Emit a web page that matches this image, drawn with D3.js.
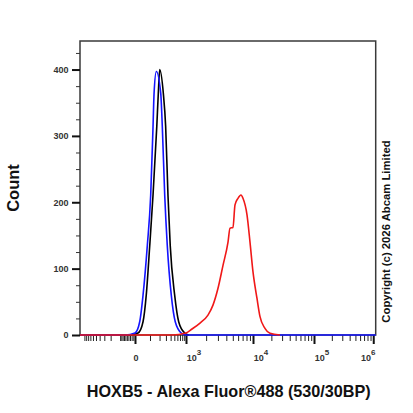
<!DOCTYPE html>
<html>
<head>
<meta charset="utf-8">
<script src="https://cdn.jsdelivr.net/npm/d3@7"></script>
<style>
  body { margin: 0; background: #fff; }
  text { font-family: "Liberation Sans", Arial, sans-serif; font-weight: bold; }
</style>
</head>
<body>
<svg id="Vis" width="413" height="413"></svg>
<script>
/*
* DATA
*/

// histogram series: x in fluorescence units, y in counts
const blackX = [-1300, -30, 18, 49, 71, 98, 127, 166, 184, 202, 255, 295, 340, 390, 510, 648, 923, 1100];
const blackCount = [0, 0, 3, 20, 60, 135, 211, 314, 364, 400, 364, 314, 211, 135, 60, 20, 3, 0];

const blueX = [-1300, -60, 0, 28, 49, 79, 106, 127, 137, 161, 216, 239, 278, 326, 416, 528, 756, 1000, 1100000];
const blueCount = [0, 0, 3, 20, 60, 135, 211, 314, 364, 397, 364, 314, 211, 135, 60, 20, 3, 0, 0];

const redX = [-1300, 430, 1000, 1230, 1620, 2130, 2530, 3000, 3570, 4240, 4540, 5030, 5390, 5970, 6620, 7090, 8140, 9020, 10000, 11630, 13000, 15700, 19000, 27700];
const redCount = [0, 0, 3, 9, 18, 30, 45, 70, 105, 140, 161, 162, 196, 206, 211, 206, 181, 140, 95, 55, 28, 10, 2.5, 0];

// axis ticks
const yMajor = [0, 100, 200, 300, 400];
const yMinor = [25, 50, 75, 125, 150, 175, 225, 250, 275, 325, 350, 375, 425];
const xMajor = [0, 1e3, 1e4, 1e5, 1e6];
const xMajorLabels = ["0", "3", "4", "5", "6"];
const xMinor = [
  -1000, -900, -800, -700, -600, -500, -400, -300, -200, -100,
  -90, -80, -70, -60, -50, -40, -30, -20, -10,
  100, 200, 300, 400, 500, 600, 700, 800, 900,
  2000, 3000, 4000, 5000, 6000, 7000, 8000, 9000,
  20000, 30000, 40000, 50000, 60000, 70000, 80000, 90000,
  200000, 300000, 400000, 500000, 600000, 700000, 800000, 900000
];

const xTitle = "HOXB5 - Alexa Fluor\u00AE488 (530/30BP)";
const yTitle = "Count";
const copyright = "Copyright (c) 2026 Abcam Limited";

/*
* SETUP
*/

const svg = d3.select("svg#Vis");

const frame = { left: 80, right: 375.7, top: 41, bottom: 335 };

/* biexponential-like display: arcsinh transform, piecewise linear on it */
const tf = v => Math.asinh(v / 100);
const xT = d3.scaleLinear()
  .domain([-1300, 0, 1e3, 1e4, 1e5, 1.1e6].map(tf))
  .range([frame.left, 135, 186, 253, 314, frame.right]);
const x = v => xT(tf(v));

const y = d3.scaleLinear()
  .domain([0, 443])
  .range([frame.bottom, frame.top]);

/*
* FRAME
*/

svg.append("rect")
  .attr("x", frame.left)
  .attr("y", frame.top)
  .attr("width", frame.right - frame.left)
  .attr("height", frame.bottom - frame.top)
  .attr("fill", "none")
  .attr("stroke", "#3a3a3a")
  .attr("stroke-width", 1.5);

/*
* AXES
*/

const yAxisMajor = svg.append("g")
  .attr("transform", translate(frame.left, 0))
  .call(d3.axisLeft(y).tickValues(yMajor).tickSize(8).tickPadding(3.5));
yAxisMajor.select(".domain").remove();
yAxisMajor.selectAll("line").attr("stroke", "#111").attr("stroke-width", 2);
yAxisMajor.selectAll("text")
  .style("font-size", "9px")
  .attr("fill", "#333");

const yAxisMinor = svg.append("g")
  .attr("transform", translate(frame.left, 0))
  .call(d3.axisLeft(y).tickValues(yMinor).tickSize(4).tickFormat(""));
yAxisMinor.select(".domain").remove();
yAxisMinor.selectAll("line").attr("stroke", "#333").attr("stroke-width", 1);

const xAxisMajor = svg.append("g")
  .attr("transform", translate(0, frame.bottom))
  .call(d3.axisBottom(xT).tickValues(xMajor.map(tf)).tickSize(9).tickFormat(""));
xAxisMajor.select(".domain").remove();
xAxisMajor.selectAll("line").attr("stroke", "#111").attr("stroke-width", 2);

const xAxisMinor = svg.append("g")
  .attr("transform", translate(0, frame.bottom))
  .call(d3.axisBottom(xT).tickValues(xMinor.map(tf)).tickSize(6).tickFormat(""));
xAxisMinor.select(".domain").remove();
xAxisMinor.selectAll("line").attr("stroke", "#222").attr("stroke-width", 1);

/* x tick labels: 0 and powers of ten */
const xLabels = svg.append("g").attr("fill", "#333");
xMajor.forEach(function(v, i) {
  const t = xLabels.append("text")
    .attr("x", x(v) + (i === 0 ? 1 : (i === xMajor.length - 1 ? -5 : 8)))
    .attr("y", 361)
    .attr("text-anchor", "middle")
    .style("font-size", "9px");
  if (i === 0) {
    t.text(xMajorLabels[i]);
  } else {
    t.append("tspan").text("10");
    t.append("tspan")
      .attr("dy", -6)
      .style("font-size", "8px")
      .text(xMajorLabels[i]);
  }
});

/*
* HISTOGRAMS
*/

const line = d3.line()
  .x(d => x(d[0]))
  .y(d => y(d[1]))
  .curve(d3.curveMonotoneX);

const series = [
  { xs: blackX, ys: blackCount, color: "#000000" },
  { xs: blueX, ys: blueCount, color: "#1414ff" },
  { xs: redX, ys: redCount, color: "#f01818" }
];

svg.append("g").selectAll("path")
  .data(series)
  .join("path")
    .attr("d", s => line(d3.zip(s.xs, s.ys)))
    .attr("fill", "none")
    .attr("stroke", s => s.color)
    .attr("stroke-width", 1.6)
    .attr("stroke-linejoin", "round");

/*
* TITLES
*/

svg.append("text")
  .attr("x", 228.8)
  .attr("y", 396.7)
  .attr("text-anchor", "middle")
  .style("font-size", "16.2px")
  .attr("fill", "#111")
  .text(xTitle);

svg.append("text")
  .attr("transform", translate(18.8, 188) + " rotate(-90)")
  .attr("text-anchor", "middle")
  .style("font-size", "16.5px")
  .attr("fill", "#111")
  .text(yTitle);

svg.append("text")
  .attr("transform", translate(390, 231.5) + " rotate(-90)")
  .attr("text-anchor", "middle")
  .style("font-size", "11.3px")
  .attr("fill", "#111")
  .text(copyright);

/*
* HELPER FUNCTIONS
*/

function translate(x, y) {
  return 'translate(' + String(x) + ',' + String(y) + ')';
}
</script>
</body>
</html>
